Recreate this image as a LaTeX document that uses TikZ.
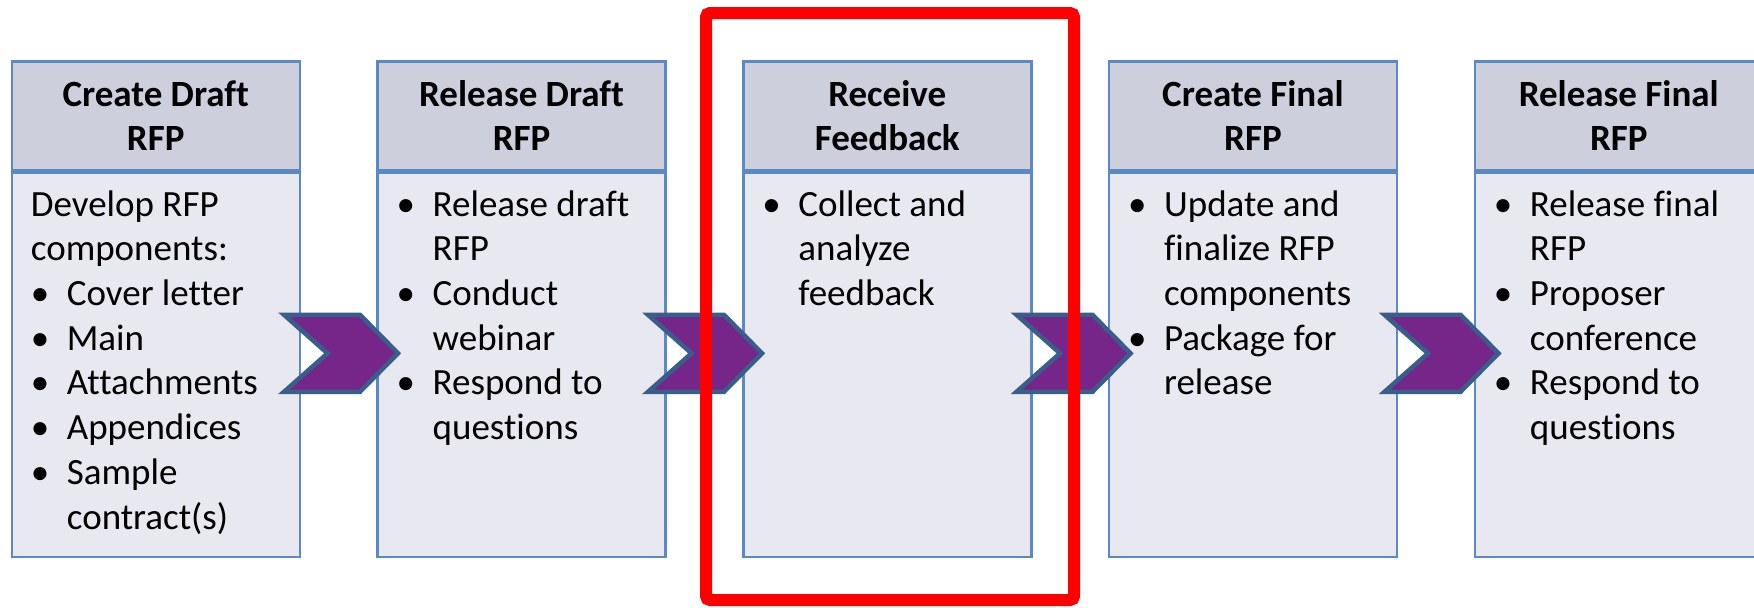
\documentclass[tikz,border=0pt]{standalone}
\usepackage{fontspec}
\setmainfont{Carlito}[Ligatures=CommonOff]
\usetikzlibrary{calc}
\definecolor{hdrfill}{RGB}{206,207,220}
\definecolor{bodyfill}{RGB}{232,232,240}
\definecolor{boxline}{RGB}{91,137,196}
\definecolor{chevfill}{RGB}{118,37,137}
\definecolor{chevline}{RGB}{58,94,140}
\definecolor{hlred}{RGB}{255,0,0}
\newcommand\bitem[1]{\makebox[18pt][l]{\textbullet}#1}
\newcommand\bcont[1]{\hspace*{18pt}#1}
\begin{document}
\begin{tikzpicture}[x=0.5pt,y=-0.5pt,
  hdrbox/.style={draw=boxline, fill=hdrfill, line width=1.25pt, minimum width=144pt, minimum height=54.25pt, anchor=north west, inner sep=0pt, align=center, font=\bfseries\fontsize{18.5}{22.35}\selectfont},
  bodybox/.style={draw=boxline, fill=bodyfill, line width=1.25pt, minimum width=144pt, minimum height=192.25pt, anchor=north west, inner sep=0pt},
  bodytext/.style={anchor=north west, inner sep=0pt, align=left, font=\fontsize{18.5}{22.35}\selectfont},
  chev/.style={draw=chevline, fill=chevfill, line width=2.25pt, line join=miter},
  hlframe/.style={draw=hlred, line width=6pt, rounded corners=2pt, minimum width=184pt, minimum height=293.5pt, inner sep=0pt}]
\useasboundingbox (0,0) rectangle (1754,607);

% headers
\node[hdrbox] (h1) at (10.5,60) {Create Draft\\RFP};
\node[hdrbox] (h2) at (376.3,60) {Release Draft\\RFP};
\node[hdrbox] (h3) at (742,60) {Receive\\Feedback};
\node[hdrbox] (h4) at (1107.7,60) {Create Final\\RFP};
\node[hdrbox] (h5) at (1473.5,60) {Release Final\\RFP};

% bodies
\node[bodybox] (d1) at (h1.south west) {};
\node[bodybox] (d2) at (h2.south west) {};
\node[bodybox] (d3) at (h3.south west) {};
\node[bodybox] (d4) at (h4.south west) {};
\node[bodybox] (d5) at (h5.south west) {};

% body texts
\node[bodytext] (t1) at ($(d1.north west)+(20,19)$) {Develop RFP\\components:\\\bitem{Cover letter}\\\bitem{Main}\\\bitem{Attachments}\\\bitem{Appendices}\\\bitem{Sample}\\\bcont{contract(s)}};
\node[bodytext] (t2) at ($(d2.north west)+(20,19)$) {\bitem{Release draft}\\\bcont{RFP}\\\bitem{Conduct}\\\bcont{webinar}\\\bitem{Respond to}\\\bcont{questions}};
\node[bodytext] (t3) at ($(d3.north west)+(20,19)$) {\bitem{Collect and}\\\bcont{analyze}\\\bcont{feedback}};
\node[bodytext] (t4) at ($(d4.north west)+(20,19)$) {\bitem{Update and}\\\bcont{finalize RFP}\\\bcont{components}\\\bitem{Package for}\\\bcont{release}};
\node[bodytext] (t5) at ($(d5.north west)+(20,19)$) {\bitem{Release final}\\\bcont{RFP}\\\bitem{Proposer}\\\bcont{conference}\\\bitem{Respond to}\\\bcont{questions}};

% chevrons
\coordinate (c1) at (340,353.3);
\coordinate (c2) at (704,353.3);
\coordinate (c3) at (1072.5,353.3);
\coordinate (c4) at (1440.5,353.3);
\foreach \c in {c1,c2,c3,c4}{
  \draw[chev] ($(\c)+(-56,-38.5)$) -- ($(\c)+(20,-38.5)$) -- ($(\c)+(58,0)$) -- ($(\c)+(20,38.5)$) -- ($(\c)+(-56,38.5)$) -- ($(\c)+(-12.5,0)$) -- cycle;
}

% highlight frame
\node[hlframe] (hl) at (890,306.5) {};
\end{tikzpicture}
\end{document}
